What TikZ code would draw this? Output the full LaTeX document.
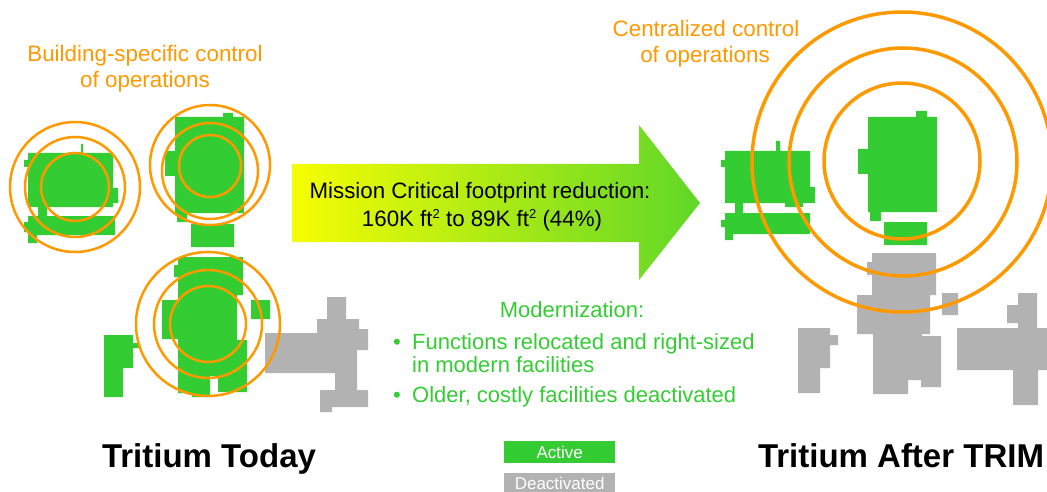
\documentclass[tikz,border=0pt]{standalone}
\usepackage{fontspec}
\setmainfont{Liberation Sans}
\usetikzlibrary{positioning}
\definecolor{actgreen}{RGB}{51,204,51}
\definecolor{offgrey}{RGB}{178,178,178}
\definecolor{ctrl}{RGB}{255,153,0}
\pgfdeclarehorizontalshading{reduction}{100bp}{color(0bp)=(yellow); color(22bp)=(yellow); color(90bp)=(actgreen); color(100bp)=(actgreen)}
\newcommand{\sqft}{ft\raisebox{7.5pt}{\fontsize{13}{13}\selectfont 2}}

\begin{document}
\begin{tikzpicture}[x=1pt,y=-1pt,
  ring/.style={draw=ctrl,line width=2.5pt},
  bigring/.style={draw=ctrl,line width=3.5pt},
  ctrltext/.style={anchor=base,inner sep=0pt,text=ctrl,font=\fontsize{22.4}{26}\selectfont},
  armtext/.style={anchor=base,inner sep=0pt,font=\fontsize{22.3}{26}\selectfont},
  modtext/.style={anchor=base west,inner sep=0pt,text=actgreen,font=\fontsize{22}{26}\selectfont},
  title/.style={anchor=base,inner sep=0pt,font=\fontsize{33}{38}\selectfont\bfseries},
  legend/.style={inner sep=0pt,minimum width=111pt,minimum height=22pt,text=white,font=\fontsize{17}{20}\selectfont}]
\useasboundingbox (0,0) rectangle (1047,492);

% building-specific control
\node[ctrltext] (bldg1) at (145,62) {Building-specific control};
\node[ctrltext] (bldg2) at (145,88) {of operations};

% buildings today
\fill[actgreen] (28,153) rectangle (113,207) (24,160) rectangle (28,167) (113,188) rectangle (118,203)
  (81,144) rectangle (83,153) (38,207) rectangle (47,216) (28,216) rectangle (115,235)
  (28,235) rectangle (37,243) (24,222) rectangle (28,232);
\fill[actgreen] (175,117) rectangle (244,213) (223,113) rectangle (233,117) (165,151) rectangle (175,176)
  (177,213) rectangle (187,222) (191,224) rectangle (234,247);
\fill[actgreen] (178,257) rectangle (243,295) (174,265) rectangle (178,277) (178,295) rectangle (237,340)
  (162,300) rectangle (178,339) (251,300) rectangle (270,319) (178,340) rectangle (247,376)
  (178,376) rectangle (210,393) (192,393) rectangle (210,397) (218,376) rectangle (247,392);
\fill[actgreen] (104,335) rectangle (133,368) (133,343) rectangle (140,348) (104,368) rectangle (123,397);
\fill[offgrey] (265,333) rectangle (357,373) (327,297) rectangle (346,319) (317,319) rectangle (359,333)
  (357,329) rectangle (368,350) (335,373) rectangle (357,392) (320,390) rectangle (368,407)
  (320,407) rectangle (332,412);

\foreach \r in {34,50,65} \draw[ring] (75,187) circle[radius=\r pt];
\draw[ring] (210,166) circle[radius=31pt];
\draw[ring] (210,171) circle[radius=48pt];
\draw[ring] (210,165) circle[radius=60pt];
\foreach \r in {38,54,72} \draw[ring] (208,324) circle[radius=\r pt];

% reduction arrow
\shade[shading=reduction] (292,164) -- (639,164) -- (639,125) -- (700,203) -- (639,280) -- (639,242) -- (292,242) -- cycle;
\node[armtext] (mission) at (480,198) {Mission Critical footprint reduction:};
\node[armtext] (cut) at (482,226) {160K \sqft{} to 89K \sqft{} (44\%)};

% modernization
\node[modtext,anchor=base] (modern) at (572,317) {Modernization:};
\node[modtext] (reloc) at (412,349) {Functions relocated and right-sized};
\node[modtext] (reloc2) at (412,372) {in modern facilities};
\node[modtext] (older) at (412,402) {Older, costly facilities deactivated};
\node[modtext,anchor=base] (dot1) at (397,349) {\textbullet};
\node[modtext,anchor=base] (dot2) at (397,402) {\textbullet};

% centralized control
\node[ctrltext] (cent1) at (706,37) {Centralized control};
\node[ctrltext] (cent2) at (705,63) {of operations};

% buildings after
\fill[actgreen] (725,151) rectangle (810,203) (776,141) rectangle (780,151) (721,160) rectangle (725,167)
  (810,187) rectangle (815,203) (785,203) rectangle (803,207) (735,203) rectangle (743,213)
  (725,213) rectangle (810,234) (725,234) rectangle (733,240) (721,220) rectangle (725,227);
\fill[actgreen] (868,117) rectangle (937,212) (916,111) rectangle (927,117) (858,149) rectangle (868,174)
  (870,212) rectangle (881,221) (884,222) rectangle (927,245);
\fill[offgrey] (872,253) rectangle (936,295) (867,262) rectangle (872,275) (857,295) rectangle (930,334)
  (873,334) rectangle (908,394) (908,334) rectangle (922,380) (921,336) rectangle (941,387)
  (942,293) rectangle (958,315);
\fill[offgrey] (798,328) rectangle (830,368) (798,368) rectangle (820,393) (830,335) rectangle (838,345);
\fill[offgrey] (957,328) rectangle (1047,370) (1018,293) rectangle (1037,328) (1007,305) rectangle (1018,323)
  (1013,370) rectangle (1038,405);

\draw[bigring] (902,161) circle[radius=78pt];
\draw[bigring] (903,162) circle[radius=114pt];
\draw[bigring] (902,162) circle[radius=150pt];

% titles and legend
\node[title] (today) at (209,467) {Tritium Today};
\node[title] (after) at (901,467) {Tritium After TRIM};
\node[legend,fill=actgreen,anchor=north west] (act) at (504,441) {Active};
\node[legend,fill=offgrey,below=9pt of act] (deac) {Deactivated};
\end{tikzpicture}
\end{document}
